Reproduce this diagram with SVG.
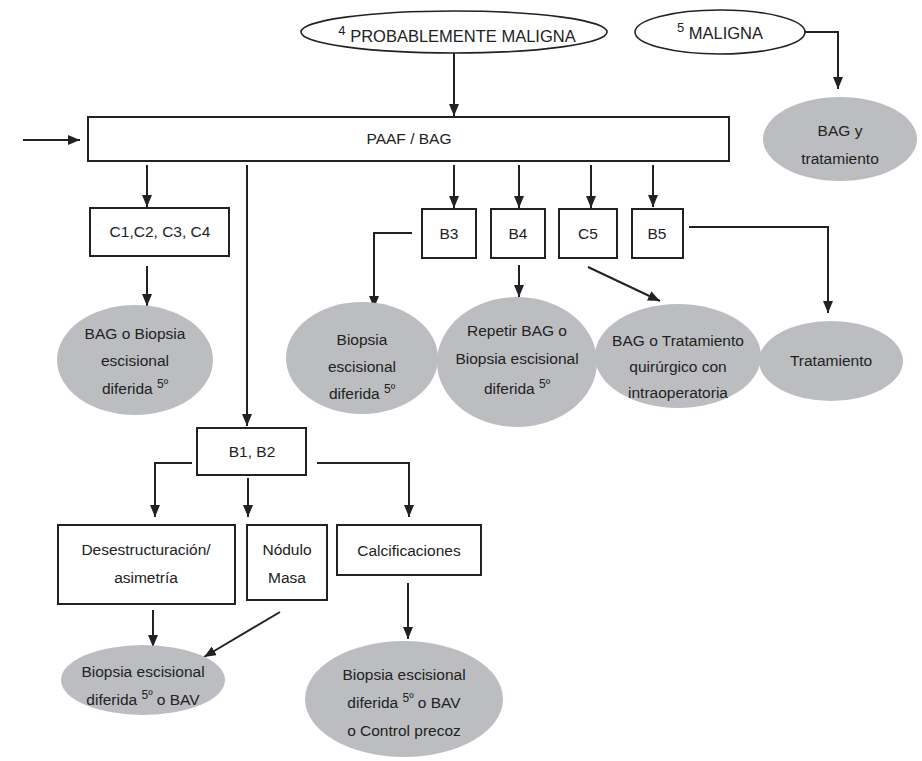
<svg xmlns="http://www.w3.org/2000/svg" width="922" height="761" viewBox="0 0 922 761">
<defs>
<marker id="ah" viewBox="0 0 12 10" refX="12" refY="5" markerWidth="12" markerHeight="10" markerUnits="userSpaceOnUse" orient="auto"><path d="M0,0 L12,5 L0,10 z" fill="#222"/></marker>
<style>
.bx{fill:#fff;stroke:#222;stroke-width:2}
.el{fill:#fff;stroke:#222;stroke-width:1.6}
.gr{fill:#bcbdc0;stroke:none}
.t{font-family:"Liberation Sans",Arial,sans-serif;font-size:15.5px;fill:#222;text-anchor:middle}
.big{font-size:16.5px}
.sup{font-size:13px}
.s5{font-size:12px}
.ln{fill:none;stroke:#222;stroke-width:2}
.ar{fill:none;stroke:#222;stroke-width:2;marker-end:url(#ah)}
</style>
</defs>
<rect width="922" height="761" fill="#fff"/>

<g id="connectors">
<line class="ar" x1="23" y1="140" x2="80" y2="140"/>
<line class="ar" x1="454" y1="53" x2="454" y2="116"/>
<polyline class="ar" points="805,32 838,32 838,89"/>
<line class="ar" x1="147" y1="165" x2="147" y2="207"/>
<line class="ar" x1="454" y1="165" x2="454" y2="208"/>
<line class="ar" x1="519" y1="165" x2="519" y2="208"/>
<line class="ar" x1="591" y1="165" x2="591" y2="208"/>
<line class="ar" x1="653" y1="165" x2="653" y2="207"/>
<line class="ar" x1="247" y1="165" x2="247" y2="426"/>
<line class="ar" x1="147" y1="266" x2="147" y2="306"/>
<polyline class="ar" points="412,233 374,233 374,308"/>
<line class="ar" x1="519" y1="265" x2="519" y2="297"/>
<line class="ar" x1="588" y1="267" x2="660" y2="301"/>
<polyline class="ar" points="689,227 828,227 828,313"/>
<polyline class="ar" points="192,463 155,463 155,517"/>
<line class="ar" x1="248" y1="478" x2="248" y2="517"/>
<polyline class="ar" points="317,463 409,463 409,517"/>
<line class="ar" x1="153" y1="610" x2="153" y2="647"/>
<line class="ar" x1="280" y1="612" x2="204" y2="657"/>
<line class="ar" x1="408" y1="583" x2="408" y2="639"/>
</g>

<g id="n-probable">
<ellipse class="el" cx="454" cy="32" rx="153" ry="21"/>
<text class="t big" x="457" y="42"><tspan class="sup" dy="-7">4</tspan><tspan dy="7"> PROBABLEMENTE MALIGNA</tspan></text>
</g>

<g id="n-maligna">
<ellipse class="el" cx="720" cy="32" rx="85" ry="22"/>
<text class="t big" x="720" y="39"><tspan class="sup" dy="-7">5</tspan><tspan dy="7"> MALIGNA</tspan></text>
</g>

<g id="n-bag-trat">
<ellipse class="gr" cx="840" cy="139" rx="77" ry="42"/>
<text class="t" x="840" y="136">BAG y</text>
<text class="t" x="840" y="164">tratamiento</text>
</g>

<g id="n-paaf">
<rect class="bx" x="88" y="117" width="641" height="44"/>
<text class="t" x="409" y="144">PAAF / BAG</text>
</g>

<g id="n-c1c4">
<rect class="bx" x="90" y="208" width="139" height="48"/>
<text class="t" x="160" y="237">C1,C2, C3, C4</text>
</g>

<g id="n-b3">
<rect class="bx" x="422" y="209" width="54" height="49"/>
<text class="t" x="449" y="239">B3</text>
</g>
<g id="n-b4">
<rect class="bx" x="491" y="209" width="54" height="49"/>
<text class="t" x="518" y="239">B4</text>
</g>
<g id="n-c5">
<rect class="bx" x="559" y="209" width="58" height="49"/>
<text class="t" x="588" y="239">C5</text>
</g>
<g id="n-b5">
<rect class="bx" x="632" y="209" width="51" height="49"/>
<text class="t" x="657" y="239">B5</text>
</g>

<g id="n-bag-biopsia">
<ellipse class="gr" cx="135" cy="360" rx="78" ry="55"/>
<text class="t" x="135" y="339">BAG o Biopsia</text>
<text class="t" x="135" y="366">escisional</text>
<text class="t" x="135" y="394">diferida <tspan class="s5" dy="-6">5º</tspan></text>
</g>

<g id="n-biopsia-b3">
<ellipse class="gr" cx="362" cy="358" rx="76" ry="56"/>
<text class="t" x="362" y="345">Biopsia</text>
<text class="t" x="362" y="372">escisional</text>
<text class="t" x="362" y="399">diferida <tspan class="s5" dy="-6">5º</tspan></text>
</g>

<g id="n-repetir">
<ellipse class="gr" cx="517" cy="362" rx="80" ry="65"/>
<text class="t" x="517" y="336">Repetir BAG o</text>
<text class="t" x="517" y="364">Biopsia escisional</text>
<text class="t" x="517" y="394">diferida  <tspan class="s5" dy="-6">5º</tspan></text>
</g>

<g id="n-bag-trat-quir">
<ellipse class="gr" cx="678" cy="356" rx="83" ry="52"/>
<text class="t" x="678" y="346">BAG o Tratamiento</text>
<text class="t" x="678" y="372">quirúrgico con</text>
<text class="t" x="678" y="398">intraoperatoria</text>
</g>

<g id="n-tratamiento">
<ellipse class="gr" cx="831" cy="361" rx="72" ry="40"/>
<text class="t" x="831" y="366">Tratamiento</text>
</g>

<g id="n-b1b2">
<rect class="bx" x="197" y="428" width="109" height="47"/>
<text class="t" x="252" y="457">B1, B2</text>
</g>

<g id="n-desest">
<rect class="bx" x="58" y="525" width="177" height="79"/>
<text class="t" x="146" y="555">Desestructuración/</text>
<text class="t" x="146" y="583">asimetría</text>
</g>

<g id="n-nodulo">
<rect class="bx" x="247" y="525" width="80" height="75"/>
<text class="t" x="287" y="555">Nódulo</text>
<text class="t" x="287" y="583">Masa</text>
</g>

<g id="n-calc">
<rect class="bx" x="337" y="525" width="144" height="50"/>
<text class="t" x="409" y="556">Calcificaciones</text>
</g>

<g id="n-biopsia-bav">
<ellipse class="gr" cx="143" cy="680" rx="82" ry="35"/>
<text class="t" x="143" y="677">Biopsia escisional</text>
<text class="t" x="143" y="705">diferida <tspan class="s5" dy="-6">5º</tspan><tspan dy="6"> o  BAV</tspan></text>
</g>

<g id="n-biopsia-control">
<ellipse class="gr" cx="404" cy="699" rx="99" ry="58"/>
<text class="t" x="404" y="680">Biopsia escisional</text>
<text class="t" x="404" y="708">diferida  <tspan class="s5" dy="-6">5º</tspan><tspan dy="6"> o BAV</tspan></text>
<text class="t" x="404" y="736">o Control precoz</text>
</g>
</svg>
